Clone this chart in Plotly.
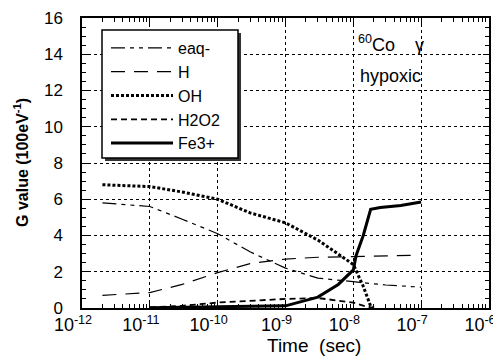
import plotly.graph_objects as go

# ---- data ----
t_eaq = [2e-12, 1e-11, 3e-11, 1e-10, 3e-10, 1e-9, 3e-9, 1e-8, 3e-8, 1e-7]
g_eaq = [5.8, 5.6, 4.9, 4.1, 3.1, 2.2, 1.65, 1.45, 1.27, 1.15]

t_h = [2e-12, 1e-11, 3e-11, 1e-10, 3e-10, 1e-9, 3e-9, 1e-8, 3e-8, 7e-8]
g_h = [0.7, 0.85, 1.3, 1.95, 2.45, 2.7, 2.8, 2.85, 2.9, 2.9]

t_oh = [2e-12, 1e-11, 3e-11, 1e-10, 3e-10, 1e-9, 3e-9, 7e-9, 1e-8, 1.4e-8, 1.8e-8, 2e-8]
g_oh = [6.8, 6.7, 6.4, 6.0, 5.25, 4.7, 3.75, 2.8, 2.4, 1.2, 0.1, 0.0]

t_h2o2 = [1e-11, 3e-11, 1e-10, 3e-10, 1e-9, 3e-9, 7e-9, 1e-8, 1.5e-8, 2e-8]
g_h2o2 = [0.03, 0.12, 0.3, 0.4, 0.5, 0.55, 0.4, 0.3, 0.1, 0.0]

t_fe = [1e-11, 1e-10, 1e-9, 3e-9, 6e-9, 1e-8, 1.1e-8, 1.4e-8, 1.8e-8, 2.5e-8, 5e-8, 1e-7]
g_fe = [0.02, 0.05, 0.12, 0.6, 1.3, 2.1, 2.9, 4.0, 5.45, 5.55, 5.65, 5.85]

x_tickvals = [1e-12, 1e-11, 1e-10, 1e-9, 1e-8, 1e-7, 1e-6]
x_ticktext = ["10<sup>-12</sup>", "10<sup>-11</sup>", "10<sup>-10</sup>", "10<sup>-9</sup>",
              "10<sup>-8</sup>", "10<sup>-7</sup>", "10<sup>-6</sup>"]
x_minorvals = [m * 10.0 ** e for e in range(-12, -6) for m in range(2, 10)]
y_tickvals = [0, 2, 4, 6, 8, 10, 12, 14, 16]

FONT = "Liberation Sans, Arial, sans-serif"

# the page body adds an 8px margin; work in screen pixels and subtract it
OFF = 8
W, H = 501 - OFF, 356 - OFF
L, R, T, B = 82 - OFF, 489 - OFF, 18 - OFF, 308 - OFF


def px(x):
    return (x - OFF - L) / (R - L)


def py(y):
    return (B - (y - OFF)) / (B - T)


fig = go.Figure()
fig.add_trace(go.Scatter(x=t_eaq, y=g_eaq, mode="lines", name="eaq-",
                         line=dict(color="black", width=1.2, dash="14px,5px,4px,5px,4px,5px")))
fig.add_trace(go.Scatter(x=t_h, y=g_h, mode="lines", name="H",
                         line=dict(color="black", width=1.2, dash="14px,9px")))
fig.add_trace(go.Scatter(x=t_oh, y=g_oh, mode="lines", name="OH",
                         line=dict(color="black", width=3, dash="3px,2px")))
fig.add_trace(go.Scatter(x=t_h2o2, y=g_h2o2, mode="lines", name="H2O2",
                         line=dict(color="black", width=1.8, dash="6px,4px")))
fig.add_trace(go.Scatter(x=t_fe, y=g_fe, mode="lines", name="Fe3+",
                         line=dict(color="black", width=3)))

axis_common = dict(showline=True, linecolor="black", linewidth=1.5, mirror="allticks",
                   ticks="inside", ticklen=6, tickcolor="black",
                   showgrid=True, gridcolor="black", gridwidth=1, griddash="dot",
                   zeroline=False, automargin=False)

fig.update_xaxes(type="log", range=[-12.0001, -5.9999], tickvals=x_tickvals, ticktext=x_ticktext,
                 tickfont=dict(family=FONT, size=18, color="black"),
                 ticklabelstandoff=0, ticklabelshift=-9,
                 minor=dict(ticks="inside", ticklen=4, tickcolor="black",
                            tickvals=x_minorvals, showgrid=False),
                 **axis_common)
fig.update_yaxes(range=[0, 16], tickvals=y_tickvals,
                 tickfont=dict(family=FONT, size=17, color="black"),
                 ticklabelstandoff=14,
                 minor=dict(ticks="inside", ticklen=4, tickcolor="black", dtick=0.5, showgrid=False),
                 **axis_common)

# axis titles
fig.add_annotation(x=px(314), y=py(345), xref="paper", yref="paper",
                   text="Time  (sec)", showarrow=False, xanchor="center", yanchor="middle",
                   font=dict(family=FONT, size=19, color="black"))
fig.add_annotation(x=px(21), y=py(163), xref="paper", yref="paper", textangle=-90,
                   text="<b>G value (100eV<sup>-1</sup>)</b>", showarrow=False,
                   xanchor="center", yanchor="middle",
                   font=dict(family=FONT, size=16, color="black"))

# legend box with shadow
fig.add_shape(type="rect", xref="paper", yref="paper",
              x0=px(105), x1=px(241), y0=py(161), y1=py(33),
              fillcolor="#333", line=dict(width=0), layer="above")
fig.add_shape(type="rect", xref="paper", yref="paper",
              x0=px(102), x1=px(238), y0=py(158), y1=py(30),
              fillcolor="white", line=dict(color="black", width=1.5), layer="above")

fig.add_annotation(x=px(356), y=py(44), xref="paper", yref="paper",
                   text="<sup>60</sup>Co    γ", showarrow=False, xanchor="left", yanchor="middle",
                   font=dict(family=FONT, size=18, color="black"))
fig.add_annotation(x=px(358), y=py(76), xref="paper", yref="paper",
                   text="hypoxic", showarrow=False, xanchor="left", yanchor="middle",
                   font=dict(family=FONT, size=18, color="black"))

fig.update_layout(
    width=W, height=H,
    margin=dict(l=L, r=W - R, t=T, b=H - B),
    paper_bgcolor="white", plot_bgcolor="white",
    showlegend=True,
    legend=dict(x=px(106), y=py(31), xanchor="left", yanchor="top",
                bgcolor="rgba(0,0,0,0)", borderwidth=0,
                font=dict(family=FONT, size=16, color="black"), itemwidth=62,
                tracegroupgap=0),
)

fig.write_html("out.html")
